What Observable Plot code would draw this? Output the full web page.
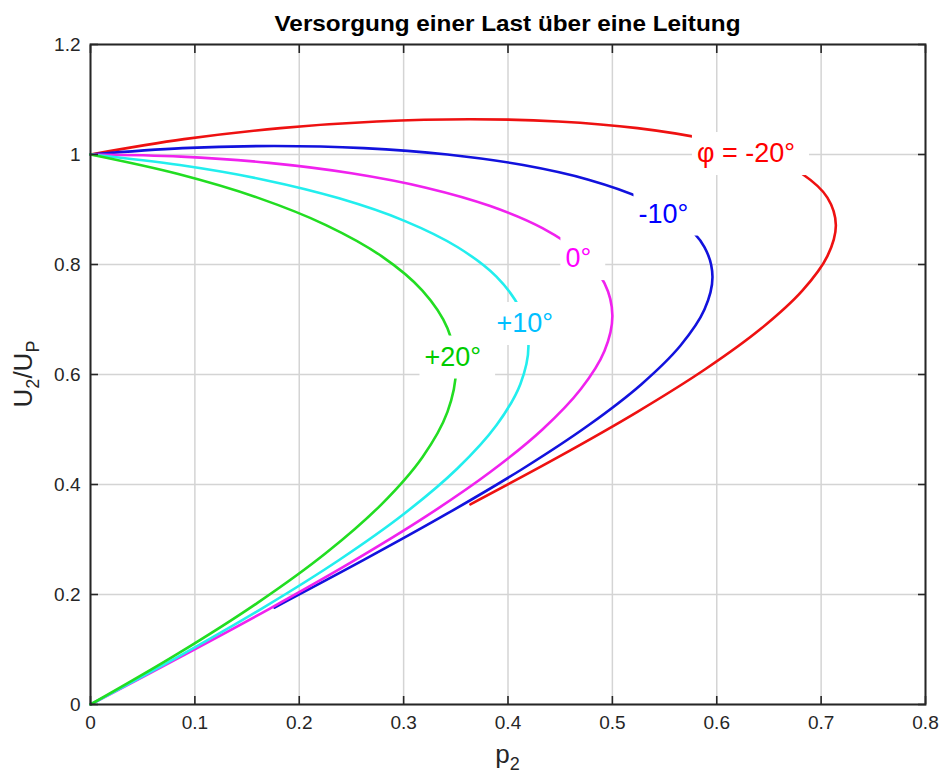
<!DOCTYPE html>
<html>
<head>
<meta charset="utf-8">
<script src="https://cdn.jsdelivr.net/npm/d3@7"></script>
<script src="https://cdn.jsdelivr.net/npm/@observablehq/plot@0.6"></script>
<style>
  html, body { margin: 0; padding: 0; background: #fff; }
  #chart { width: 941px; height: 776px; }
</style>
</head>
<body>
<div id="chart"></div>
<script>
// ---- data ----
const titleText = "Versorgung einer Last über eine Leitung";
const xTicks = [0, 0.1, 0.2, 0.3, 0.4, 0.5, 0.6, 0.7, 0.8];
const yTicks = [0, 0.2, 0.4, 0.6, 0.8, 1.0, 1.2];

const seriesNames = ["-20", "-10", "0", "+10", "+20"];
const seriesColors = ["#ee1111", "#1212dd", "#f022ee", "#22eeee", "#22dd22"];

const p_m20 = [0, 0.0896, 0.1820, 0.2744, 0.3640, 0.4480, 0.5240, 0.5896, 0.6428, 0.6820, 0.7060, 0.7141, 0.7060, 0.6820, 0.6428, 0.5896, 0.5240, 0.4480, 0.3640];
const u_m20 = [1, 1.0279, 1.0480, 1.0601, 1.0642, 1.0601, 1.0480, 1.0279, 1.0000, 0.9645, 0.9216, 0.8717, 0.8152, 0.7525, 0.6840, 0.6104, 0.5321, 0.4497, 0.3640];

const p_m10 = [0, 0.0882, 0.1763, 0.2618, 0.3420, 0.4145, 0.4771, 0.5279, 0.5653, 0.5882, 0.5959, 0.5882, 0.5653, 0.5279, 0.4771, 0.4145, 0.3420, 0.2618, 0.1763];
const u_m10 = [1, 1.0116, 1.0154, 1.0116, 1.0000, 0.9808, 0.9542, 0.9203, 0.8794, 0.8318, 0.7779, 0.7180, 0.6527, 0.5824, 0.5077, 0.4291, 0.3473, 0.2628, 0.1763];

const p_0 = [0, 0.0868, 0.1710, 0.2500, 0.3214, 0.3830, 0.4330, 0.4698, 0.4924, 0.5000, 0.4924, 0.4698, 0.4330, 0.3830, 0.3214, 0.2500, 0.1710, 0.0868, 0];
const u_0 = [1, 0.9962, 0.9848, 0.9659, 0.9397, 0.9063, 0.8660, 0.8192, 0.7660, 0.7071, 0.6428, 0.5736, 0.5000, 0.4226, 0.3420, 0.2588, 0.1736, 0.0872, 0];

const p_p10 = [0, 0.0855, 0.1657, 0.2382, 0.3008, 0.3515, 0.3889, 0.4118, 0.4196, 0.4118, 0.3889, 0.3515, 0.3008, 0.2382, 0.1657, 0.0855, 0];
const u_p10 = [1, 0.9808, 0.9542, 0.9203, 0.8794, 0.8318, 0.7779, 0.7180, 0.6527, 0.5824, 0.5077, 0.4291, 0.3473, 0.2628, 0.1763, 0.0885, 0];

const p_p20 = [0, 0.0841, 0.1600, 0.2256, 0.2788, 0.3180, 0.3420, 0.3501, 0.3420, 0.3180, 0.2788, 0.2256, 0.1600, 0.0841, 0];
const u_p20 = [1, 0.9645, 0.9216, 0.8717, 0.8152, 0.7525, 0.6840, 0.6104, 0.5321, 0.4497, 0.3640, 0.2754, 0.1848, 0.0928, 0];

const labelTexts = ["φ = -20°", "-10°", "0°", "+10°", "+20°"];
const labelX = [0.581, 0.525, 0.455, 0.389, 0.320];
const labelY = [1.002, 0.892, 0.811, 0.693, 0.632];
const labelColors = ["#ff0000", "#0000ff", "#ff00ff", "#00bfff", "#00cc00"];

// ---- build tables ----
const pArrays = [p_m20, p_m10, p_0, p_p10, p_p20];
const uArrays = [u_m20, u_m10, u_0, u_p10, u_p20];
const rows = [];
seriesNames.forEach((name, i) => {
  pArrays[i].forEach((p, j) => rows.push({series: name, color: seriesColors[i], p, u: uArrays[i][j]}));
});
const labels = labelTexts.map((t, i) => ({text: t, x: labelX[i], y: labelY[i], color: labelColors[i]}));

const W = 941, H = 776, mL = 90, mR = 16, mT = 44, mB = 72;
const fmt = d => String(+d.toFixed(1));
const ink = "#262626";
const gridStyle = {stroke: "#d4d4d4", strokeOpacity: 1, strokeWidth: 1.5};

const svg = Plot.plot({
  width: W, height: H,
  marginLeft: mL, marginRight: mR, marginTop: mT, marginBottom: mB,
  style: {fontFamily: "Liberation Sans, Arial, Helvetica, sans-serif", color: ink, background: "#fff"},
  x: {domain: [0, 0.8]},
  y: {domain: [0, 1.2]},
  color: {type: "identity"},
  marks: [
    Plot.gridX(xTicks, gridStyle),
    Plot.gridY(yTicks, gridStyle),
    Plot.line(rows, {x: "p", y: "u", z: "series", stroke: "color", strokeWidth: 2.6, curve: "catmull-rom"}),
    Plot.text(labels, {x: "x", y: "y", text: "text", fill: "color", textAnchor: "start", lineAnchor: "middle", fontSize: 27}),
    Plot.frame({stroke: ink, strokeWidth: 2}),
    Plot.axisX(xTicks, {anchor: "bottom", tickSize: -8, tickPadding: 19, tickFormat: fmt, fontSize: 19, strokeWidth: 1.6, label: null}),
    Plot.axisX(xTicks, {anchor: "top", tickSize: -8, tickFormat: () => "", strokeWidth: 1.6, label: null}),
    Plot.axisY(yTicks, {anchor: "left", tickSize: -8, tickPadding: 18, tickFormat: fmt, fontSize: 19, strokeWidth: 1.6, label: null}),
    Plot.axisY(yTicks, {anchor: "right", tickSize: -8, tickFormat: () => "", strokeWidth: 1.6, label: null})
  ]
});
document.getElementById("chart").append(svg);

// white background boxes behind the curve labels
const s = d3.select(svg);
s.selectAll("text").filter(function() { return labelTexts.includes(this.textContent); }).each(function() {
  const b = this.getBBox();
  const padL = 5, padR = 14, padT = 6, padB = 7;
  const r = document.createElementNS("http://www.w3.org/2000/svg", "rect");
  r.setAttribute("x", b.x - padL);
  r.setAttribute("y", b.y - padT);
  r.setAttribute("width", b.width + padL + padR);
  r.setAttribute("height", b.height + padT + padB);
  r.setAttribute("fill", "#fff");
  r.setAttribute("stroke", "none");
  const tr = this.getAttribute("transform");
  if (tr) r.setAttribute("transform", tr);
  this.parentNode.insertBefore(r, this);
});

// title and axis labels
const cx = mL + (W - mL - mR) / 2;
const cy = mT + (H - mT - mB) / 2;
s.append("text")
  .attr("x", cx).attr("y", 31)
  .attr("text-anchor", "middle")
  .attr("font-size", 22).attr("font-weight", "bold")
  .attr("fill", "#000")
  .attr("textLength", 466).attr("lengthAdjust", "spacingAndGlyphs")
  .text(titleText);

const xl = s.append("text")
  .attr("x", cx).attr("y", 763)
  .attr("text-anchor", "middle")
  .attr("font-size", 26).attr("fill", ink);
xl.append("tspan").text("p");
xl.append("tspan").attr("font-size", 18).attr("dy", 7).text("2");

const yl = s.append("text")
  .attr("transform", `translate(32,${cy}) rotate(-90)`)
  .attr("text-anchor", "middle")
  .attr("font-size", 26).attr("fill", ink);
yl.append("tspan").text("U");
yl.append("tspan").attr("font-size", 18).attr("dy", 7).text("2");
yl.append("tspan").attr("dy", -7).text("/U");
yl.append("tspan").attr("font-size", 18).attr("dy", 7).text("P");
</script>
</body>
</html>
